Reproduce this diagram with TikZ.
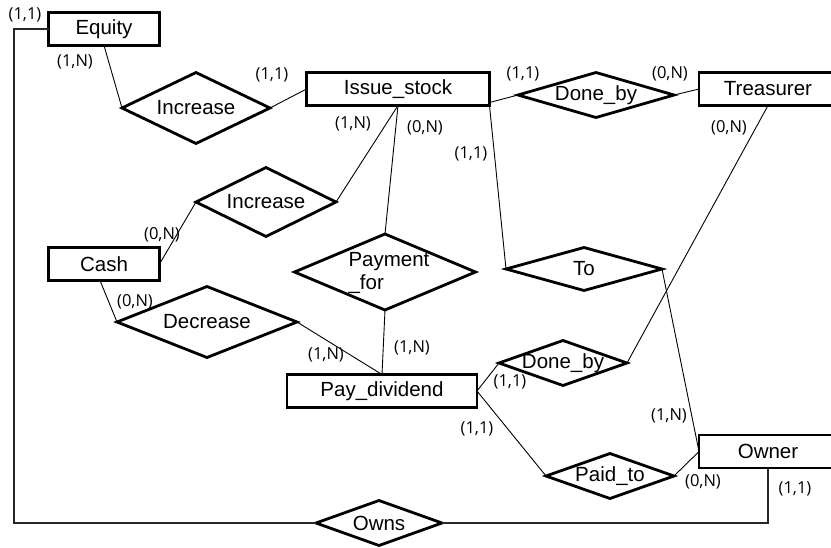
\documentclass[tikz,border=0pt]{standalone}
\usepackage{fontspec}
\setmainfont{Liberation Sans}
\newfontfamily\cardfont{Open Sans}
\usetikzlibrary{shapes.geometric,calc}
\begin{document}
\begin{tikzpicture}[x=1pt,y=-1pt,
  entity/.style={draw, line width=2.9pt, minimum height=33pt, inner sep=0pt, outer sep=0pt,
    font=\fontsize{20.5}{23}\selectfont},
  rel/.style={draw, diamond, line width=2.8pt, inner sep=0pt, outer sep=0pt, miter limit=4,
    font=\fontsize{20.5}{23}\selectfont},
  reltext/.style={inner sep=0pt, font=\fontsize{20.5}{23}\selectfont},
  conn/.style={line width=0.9pt},
  loopline/.style={line width=1.3pt, draw=black!85},
  card/.style={inner sep=0pt, font=\cardfont\fontsize{16.5}{18}\selectfont},
]
\clip (0,0) rectangle (831,547);
\useasboundingbox (0,0) rectangle (831,547);

% entities
\node[entity, minimum width=111pt] (equity) at (104,29) {Equity};
\node[entity, minimum width=183pt] (issue) at (398,89) {Issue\_stock};
\node[entity, minimum width=138pt] (treas) at (768,89) {Treasurer};
\node[entity, minimum width=111pt] (cash) at (104,264) {Cash};
\node[entity, minimum width=190pt] (pay) at (382,391) {Pay\_dividend};
\node[entity, minimum width=138pt] (owner) at (768,451.5) {Owner};

% relationships
\node[rel, minimum width=148pt, minimum height=71pt] (inc1) at (196,108) {\makebox[0pt]{Increase}};
\node[rel, minimum width=140pt, minimum height=69pt] (inc2) at (266,202) {\makebox[0pt]{Increase}};
\node[rel, minimum width=156pt, minimum height=45pt] (done1) at (596,95) {\makebox[0pt]{Done\_by}};
\node[rel, minimum width=156pt, minimum height=43pt] (to) at (584,269) {\makebox[0pt]{To}};
\node[rel, minimum width=181pt, minimum height=76pt] (payfor) at (385,272) {};
\node[reltext, align=left] (payfortext) at (389,273) {Payment\\\_for};
\node[rel, minimum width=180pt, minimum height=71pt] (decr) at (207,322) {\makebox[0pt]{Decrease}};
\node[rel, minimum width=128pt, minimum height=45pt] (done2) at (563,363) {\makebox[0pt]{Done\_by}};
\node[rel, minimum width=128pt, minimum height=45pt] (paid) at (610,476) {\makebox[0pt]{Paid\_to}};
\node[rel, minimum width=126pt, minimum height=45pt] (owns) at (379,523) {\makebox[0pt]{Owns}};

\coordinate (loopcorner) at (14,29);

% connectors
\draw[conn] (equity.south) -- (inc1.west);
\draw[conn] (inc1.east) -- (issue.west);
\draw[conn] (issue.south) -- (inc2.east);
\draw[conn] (issue.south) -- (payfor.north);
\draw[conn] ($(issue.south east)+(0,-3)$) -- (done1.west);
\draw[conn] (issue.south east) -- (to.west);
\draw[conn] (done1.east) -- (treas.west);
\draw[conn] (treas.south) -- (done2.east);
\draw[conn] (to.east) -- (owner.west);
\draw[conn] (inc2.west) -- (cash.east);
\draw[conn] ($(cash.south)+(-4,0)$) -- (decr.west);
\draw[conn] (decr.east) -- (pay.north);
\draw[conn] (payfor.south) -- (pay.north);
\draw[conn] (pay.east) -- (done2.west);
\draw[conn] (pay.east) -- (paid.west);
\draw[conn] (paid.east) -- (owner.west);
\draw[loopline] (owner.south) |- (owns.east);
\draw[loopline] (owns.west) -| (loopcorner) -- (equity.west);

% cardinalities
\node[card] (c1) at (25,15) {(1,1)};
\node[card] (c2) at (75,62) {(1,N)};
\node[card] (c3) at (272,75) {(1,1)};
\node[card] (c4) at (353,124) {(1,N)};
\node[card] (c5) at (425,128) {(0,N)};
\node[card] (c6) at (471,154) {(1,1)};
\node[card] (c7) at (523,74) {(1,1)};
\node[card] (c8) at (670,74) {(0,N)};
\node[card] (c9) at (729,128) {(0,N)};
\node[card] (c10) at (162,235) {(0,N)};
\node[card] (c11) at (135,302) {(0,N)};
\node[card] (c12) at (326,355) {(1,N)};
\node[card] (c13) at (412,348) {(1,N)};
\node[card] (c14) at (510,382) {(1,1)};
\node[card] (c15) at (477,429) {(1,1)};
\node[card] (c16) at (669,416) {(1,N)};
\node[card] (c17) at (703,482) {(0,N)};
\node[card] (c18) at (795,489) {(1,1)};
\end{tikzpicture}
\end{document}
